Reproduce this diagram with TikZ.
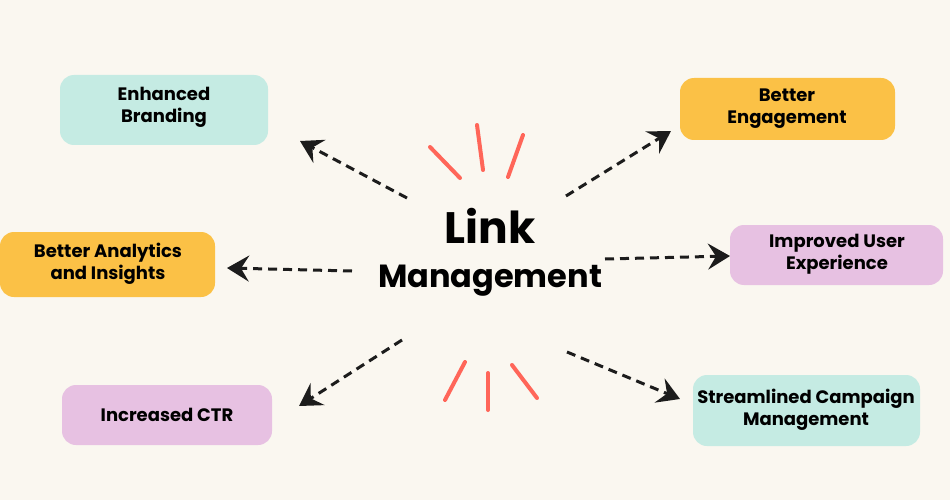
\documentclass[tikz,border=0pt]{standalone}
\usepackage{fontspec}
\setmainfont{Poppins}
\usetikzlibrary{arrows.meta}
\definecolor{bg}{HTML}{FAF7F0}
\definecolor{teal}{HTML}{C5EBE3}
\definecolor{orng}{HTML}{FBC146}
\definecolor{pink}{HTML}{E7C1E2}
\definecolor{ray}{HTML}{FF6659}
\definecolor{ink}{HTML}{1C1C1C}
\tikzset{
  box/.style={inner sep=0pt, align=center,
    font=\fontsize{18}{22}\selectfont\bfseries, text=black},
  conn/.style={ink, line width=3pt, dash pattern=on 9pt off 6pt,
    -{Stealth[length=22pt,width=26pt,inset=8pt]}},
  rays/.style={ray, line width=4pt, line cap=round},
  panel/.style={rounded corners=14pt},
}
\begin{document}
\begin{tikzpicture}[x=1pt,y=-1pt]
\fill[bg] (0,0) rectangle (950,500);
\useasboundingbox (0,0) rectangle (950,500);

% boxes
\fill[teal, panel] (60,75) rectangle (268,145);
\node[box] (eb) at (164,107) {Enhanced\\Branding};
\fill[orng, panel] (680,78) rectangle (895,140);
\node[box] (be) at (787,109) {Better\\Engagement};
\fill[orng, panel] (0,232) rectangle (215,297);
\node[box] (ba) at (108,264) {Better Analytics\\and Insights};
\fill[pink, panel] (730,225) rectangle (943,285);
\node[box] (iu) at (837,254) {Improved User\\Experience};
\fill[pink, panel] (62,385) rectangle (272,445);
\node[box] (ic) at (167,415) {Increased CTR};
\fill[teal, panel] (693,375) rectangle (920,446);
\node[box] (sc) at (806,410) {Streamlined Campaign\\Management};

% center
\node[font=\fontsize{44}{48}\selectfont\bfseries] (link) at (490,226) {Link};
\node[font=\fontsize{32}{36}\selectfont\bfseries] (mgmt) at (490,281) {Management};

% connector ends
\coordinate (s1) at (407,198); \coordinate (t1) at (300,141);
\coordinate (s2) at (566,196); \coordinate (t2) at (671,131);
\coordinate (s3) at (352,271); \coordinate (t3) at (227,268);
\coordinate (s4) at (605,259); \coordinate (t4) at (730,256);
\coordinate (s5) at (402,340); \coordinate (t5) at (299,406);
\coordinate (s6) at (567,352); \coordinate (t6) at (680,399);
\draw[conn] (s1) -- (t1);
\draw[conn] (s2) -- (t2);
\draw[conn] (s3) -- (t3);
\draw[conn] (s4) -- (t4);
\draw[conn] (s5) -- (t5);
\draw[conn] (s6) -- (t6);

% rays
\draw[rays] (430,147) -- (460,178);
\draw[rays] (477,125) -- (483,170);
\draw[rays] (523,135) -- (508,177);
\draw[rays] (465,362) -- (445,400);
\draw[rays] (488,373) -- (488,410);
\draw[rays] (512,365) -- (537,398);
\end{tikzpicture}
\end{document}
